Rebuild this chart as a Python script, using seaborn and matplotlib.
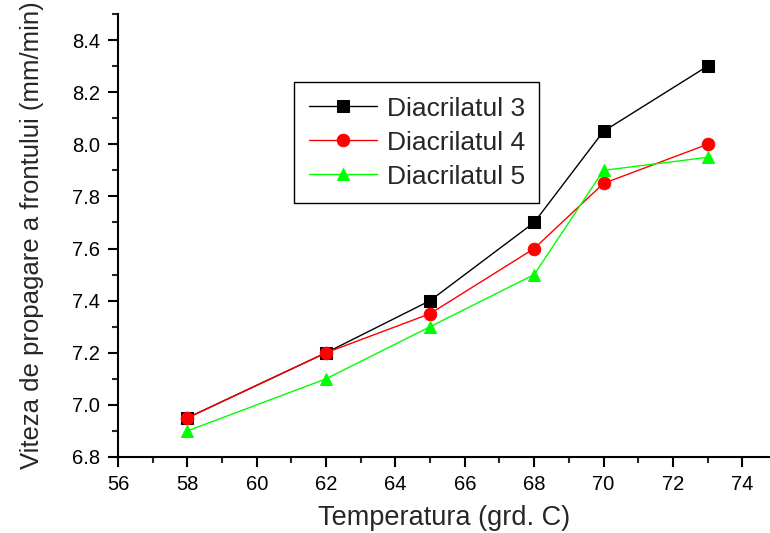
import matplotlib
matplotlib.use('Agg')
import matplotlib.pyplot as plt
import seaborn as sns
import pandas as pd
from matplotlib.ticker import MultipleLocator

# date
temperatura = [58, 62, 65, 68, 70, 73]
diacrilat_3 = [6.95, 7.20, 7.40, 7.70, 8.05, 8.30]
diacrilat_4 = [6.95, 7.20, 7.35, 7.60, 7.85, 8.00]
diacrilat_5 = [6.90, 7.10, 7.30, 7.50, 7.90, 7.95]

sns.set_style('ticks')
plt.rcParams['font.family'] = ['Liberation Sans', 'DejaVu Sans']

fig = plt.figure(figsize=(7.7, 5.33), dpi=100)
ax = fig.add_axes([0.1532, 0.1426, 0.8468, 0.8311])

serii = [
    ('Diacrilatul 3', diacrilat_3, 'black', 's', 8),
    ('Diacrilatul 4', diacrilat_4, 'red', 'o', 9),
    ('Diacrilatul 5', diacrilat_5, '#00ff00', '^', 9),
]
for nume, valori, culoare, marker, ms in serii:
    df = pd.DataFrame({'T': temperatura, 'v': valori})
    sns.lineplot(data=df, x='T', y='v', ax=ax, color=culoare, marker=marker,
                 markersize=ms, markeredgecolor=culoare, linewidth=1.0,
                 label=nume)

ax.set_xlim(56, 74.8)
ax.set_ylim(6.8, 8.5)
ax.xaxis.set_major_locator(MultipleLocator(2))
ax.xaxis.set_minor_locator(MultipleLocator(1))
ax.yaxis.set_minor_locator(MultipleLocator(0.1))
ax.set_yticks([6.8, 7.0, 7.2, 7.4, 7.6, 7.8, 8.0, 8.2, 8.4])
ax.yaxis.set_major_formatter(plt.FormatStrFormatter('%.1f'))

for s in ['top', 'right']:
    ax.spines[s].set_visible(False)
for s in ['left', 'bottom']:
    ax.spines[s].set_linewidth(1.5)
    ax.spines[s].set_color('black')

ax.tick_params(which='major', direction='out', length=7, width=1.5,
               labelsize=14.5, colors='black', pad=6)
ax.tick_params(which='minor', direction='out', length=4, width=1.5)

ax.set_xlabel('Temperatura (grd. C)', fontsize=19.5, labelpad=8)
ax.set_ylabel('Viteza de propagare a frontului (mm/min)', fontsize=18.5, labelpad=20)

leg = ax.legend(loc='upper left', bbox_to_anchor=(0.382, 0.846),
                bbox_transform=fig.transFigure, borderaxespad=0,
                fontsize=19, handlelength=2.6, handletextpad=0.35,
                labelspacing=0.38, fancybox=False, framealpha=1,
                edgecolor='black', borderpad=0.55)
leg.get_frame().set_linewidth(1.0)

fig.savefig('out.png', dpi=100)
